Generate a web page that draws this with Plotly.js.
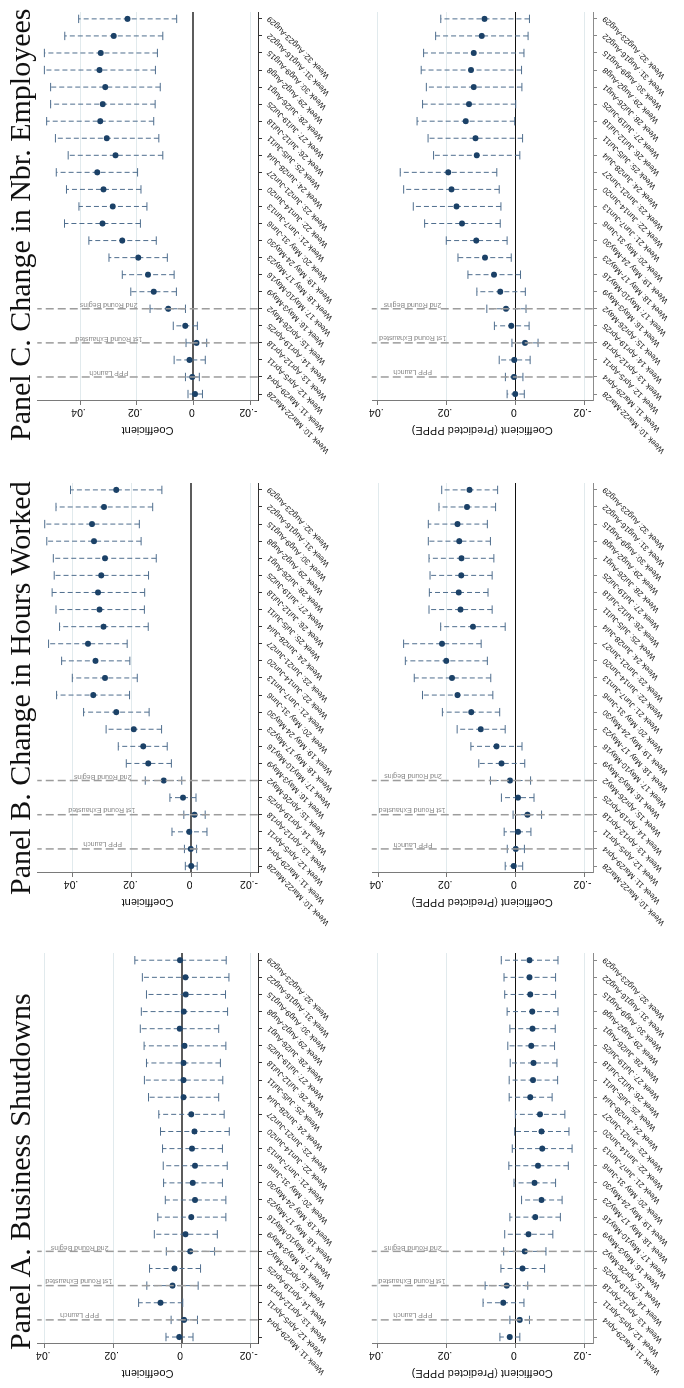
<!DOCTYPE html>
<html>
<head>
<meta charset="utf-8">
<script src="https://cdn.plot.ly/plotly-3.0.1.min.js"></script>
<style>
html,body{margin:0;padding:0;background:#fff;overflow:hidden;}
*{-webkit-font-smoothing:antialiased;-moz-osx-font-smoothing:grayscale;}
#wrap{position:relative;width:684px;height:1388px;overflow:hidden;background:#fff;}
#plot{position:absolute;left:0;top:0;width:1388px;height:684px;transform-origin:0 0;transform:translate(0px,1388px) rotate(-90deg);will-change:transform;background:#fff;}
</style>
</head>
<body>
<div id="wrap"><div id="plot"></div></div>
<script>
// ---------------- data ----------------
const weeks = [10,11,12,13,14,15,16,17,18,19,20,21,22,23,24,25,26,27,28,29,30,31,32];
const weekLabels = ["Week 10: Mar22-Mar28","Week 11: Mar29-Apr4","Week 12: Apr5-Apr11","Week 13: Apr12-Apr18","Week 14: Apr19-Apr25","Week 15: Apr26-May2","Week 16: May3-May9","Week 17: May10-May16","Week 18: May 17-May23","Week 19: May 24-May30","Week 20: May 31-Jun6","Week 21: Jun7-Jun13","Week 22: Jun14-Jun20","Week 23: Jun21-Jun27","Week 24: Jun28-Jul4","Week 25: Jul5-Jul11","Week 26: Jul12-Jul18","Week 27: Jul19-Jul25","Week 28: Jul26-Aug1","Week 29: Aug2-Aug8","Week 30: Aug9-Aug15","Week 31: Aug16-Aug22","Week 32: Aug23-Aug29"];

const panelTitles = ["Panel A. Business Shutdowns","Panel B. Change in Hours Worked","Panel C. Change in Nbr. Employees"];
const axisTitles = ["Coefficient","Coefficient (Predicted PPPE)"];
const valueTicks = [-0.02, 0, 0.02, 0.04];
const valueTickText = ["-.02","0",".02",".04"];
const eventWeeks = [11, 13, 15];
const eventLabels = ["PPP Launch","1st Round Exhausted","2nd Round Begins"];

// Panel A: Business Shutdowns
const aCoef   = [0.0007,-0.0007,0.0062,0.0027,0.0021,-0.0025,-0.0011,-0.0028,-0.0039,-0.0032,-0.0039,-0.0030,-0.0037,-0.0028,-0.0005,-0.0005,-0.0005,-0.0008,0.0006,-0.0006,-0.0012,-0.0011,0.0005];
const aCoefLo = [-0.0033,-0.0046,-0.0003,-0.0048,-0.0055,-0.0096,-0.0104,-0.0129,-0.0129,-0.0119,-0.0133,-0.0119,-0.0139,-0.0124,-0.0108,-0.0120,-0.0113,-0.0129,-0.0108,-0.0134,-0.0128,-0.0138,-0.0130];
const aCoefHi = [0.0046,0.0031,0.0126,0.0102,0.0094,0.0045,0.0080,0.0070,0.0048,0.0053,0.0054,0.0056,0.0062,0.0067,0.0097,0.0109,0.0103,0.0110,0.0121,0.0118,0.0103,0.0115,0.0137];
const aPred   = [0.0016,-0.0013,0.0035,0.0025,-0.0021,-0.0027,-0.0038,-0.0058,-0.0076,-0.0056,-0.0066,-0.0078,-0.0076,-0.0072,-0.0043,-0.0051,-0.0053,-0.0046,-0.0050,-0.0049,-0.0043,-0.0041,-0.0041];
const aPredLo = [-0.0013,-0.0041,-0.0025,-0.0036,-0.0085,-0.0089,-0.0109,-0.0131,-0.0136,-0.0117,-0.0154,-0.0165,-0.0156,-0.0144,-0.0107,-0.0123,-0.0121,-0.0114,-0.0116,-0.0124,-0.0117,-0.0117,-0.0124];
const aPredHi = [0.0045,0.0016,0.0094,0.0088,0.0042,0.0034,0.0031,0.0016,-0.0018,0.0004,0.0019,0.0009,0.0002,0.0000,0.0018,0.0018,0.0015,0.0022,0.0016,0.0024,0.0031,0.0033,0.0041];

// Panel B: Change in Hours Worked
const bCoef   = [0.0000,0.0002,0.0007,-0.0011,0.0028,0.0093,0.0145,0.0162,0.0194,0.0253,0.0330,0.0291,0.0323,0.0348,0.0296,0.0309,0.0314,0.0303,0.0291,0.0328,0.0335,0.0294,0.0253];
const bCoefLo = [-0.0020,-0.0018,-0.0053,-0.0047,-0.0016,0.0032,0.0067,0.0081,0.0100,0.0142,0.0208,0.0182,0.0207,0.0216,0.0145,0.0158,0.0157,0.0144,0.0118,0.0169,0.0175,0.0130,0.0099];
const bCoefHi = [0.0020,0.0023,0.0065,0.0025,0.0072,0.0155,0.0219,0.0246,0.0287,0.0363,0.0454,0.0401,0.0437,0.0481,0.0444,0.0456,0.0469,0.0462,0.0465,0.0487,0.0494,0.0456,0.0407];
const bPred   = [0.0005,-0.0001,-0.0007,-0.0035,-0.0007,0.0016,0.0041,0.0055,0.0101,0.0129,0.0169,0.0185,0.0202,0.0214,0.0124,0.0160,0.0165,0.0158,0.0157,0.0164,0.0169,0.0141,0.0134];
const bPredLo = [-0.0021,-0.0026,-0.0045,-0.0076,-0.0054,-0.0044,-0.0027,-0.0019,0.0030,0.0046,0.0066,0.0072,0.0082,0.0100,0.0030,0.0068,0.0080,0.0068,0.0063,0.0073,0.0082,0.0058,0.0052];
const bPredHi = [0.0030,0.0024,0.0033,0.0007,0.0041,0.0073,0.0107,0.0130,0.0170,0.0213,0.0271,0.0295,0.0321,0.0326,0.0218,0.0252,0.0251,0.0249,0.0252,0.0254,0.0254,0.0223,0.0215];

// Panel C: Change in Nbr. Employees
const cCoef   = [-0.0006,0.0004,0.0014,-0.0011,0.0029,0.0089,0.0140,0.0160,0.0195,0.0251,0.0321,0.0285,0.0317,0.0339,0.0275,0.0306,0.0329,0.0320,0.0311,0.0331,0.0327,0.0281,0.0233];
const cCoefLo = [-0.0032,-0.0021,-0.0042,-0.0047,-0.0014,0.0028,0.0060,0.0068,0.0092,0.0131,0.0187,0.0164,0.0185,0.0197,0.0108,0.0122,0.0140,0.0135,0.0117,0.0134,0.0127,0.0108,0.0059];
const cCoefHi = [0.0019,0.0028,0.0068,0.0026,0.0071,0.0153,0.0221,0.0251,0.0298,0.0369,0.0455,0.0404,0.0448,0.0484,0.0442,0.0487,0.0518,0.0504,0.0504,0.0526,0.0526,0.0454,0.0405];
const cPred   = [0.0000,0.0004,0.0003,-0.0028,0.0012,0.0027,0.0044,0.0062,0.0088,0.0114,0.0155,0.0171,0.0186,0.0195,0.0112,0.0116,0.0144,0.0135,0.0121,0.0129,0.0121,0.0098,0.0090];
const cPredLo = [-0.0026,-0.0022,-0.0043,-0.0066,-0.0040,-0.0031,-0.0029,-0.0015,0.0012,0.0024,0.0044,0.0042,0.0047,0.0054,-0.0013,-0.0021,0.0002,-0.0001,-0.0019,-0.0018,-0.0025,-0.0037,-0.0041];
const cPredHi = [0.0024,0.0029,0.0047,0.0010,0.0061,0.0083,0.0112,0.0138,0.0167,0.0201,0.0264,0.0297,0.0325,0.0335,0.0238,0.0254,0.0286,0.0270,0.0259,0.0274,0.0267,0.0232,0.0217];

// ---------------- layout geometry (landscape px, then rotated) ----------------
const W = 1388, H = 684;
const panelX = [[45,435],[516,905.3],[988,1376.3]];
const rowY = [[37.3,257.7],[371.7,592.7]];
const panelTitleX = [216, 700, 1163];

const subs = [
  {p:0,r:0,b:aCoef,lo:aCoefLo,hi:aCoefHi,range:[-0.0222,0.0422]},
  {p:0,r:1,b:aPred,lo:aPredLo,hi:aPredHi,range:[-0.0225,0.0418]},
  {p:1,r:0,b:bCoef,lo:bCoefLo,hi:bCoefHi,range:[-0.0224,0.0519]},
  {p:1,r:1,b:bPred,lo:bPredLo,hi:bPredHi,range:[-0.0225,0.0419]},
  {p:2,r:0,b:cCoef,lo:cCoefLo,hi:cCoefHi,range:[-0.0227,0.0551]},
  {p:2,r:1,b:cPred,lo:cPredLo,hi:cPredHi,range:[-0.0225,0.0418]}
];

const dotColor = '#1b4167';
const ciColor = '#4f6e8e';
const traces = [];
const layout = {
  width: W, height: H,
  margin:{l:0,r:0,t:0,b:0},
  paper_bgcolor:'#fff', plot_bgcolor:'#fff',
  showlegend:false,
  font:{family:'"Liberation Sans", Arial, sans-serif', color:'#111'},
  shapes:[], annotations:[]
};

subs.forEach((s, k) => {
  const n = k + 1;
  const xa = n === 1 ? 'x' : 'x' + n;
  const ya = n === 1 ? 'y' : 'y' + n;
  const xKey = n === 1 ? 'xaxis' : 'xaxis' + n;
  const yKey = n === 1 ? 'yaxis' : 'yaxis' + n;
  const px = panelX[s.p], py = rowY[s.r];
  const left = s.r === 0;

  layout[xKey] = {
    domain:[px[0]/W, px[1]/W], anchor: ya,
    range:[9.65, 32.42], tickmode:'array', tickvals: weeks, ticktext: weekLabels,
    tickangle:-45, tickfont:{size:8, color:'#1a1a1a'},
    ticks:'outside', ticklen:3, tickcolor: left ? '#333' : '#888',
    showline:true, linecolor: left ? '#333' : '#8c8c8c', linewidth: left ? 1 : 1.5,
    showgrid:false, zeroline:false, fixedrange:true
  };
  layout[yKey] = {
    domain:[1 - py[1]/H, 1 - py[0]/H], anchor: xa,
    range: s.range, tickmode:'array', tickvals: valueTicks, ticktext: valueTickText,
    tickangle:-90, tickfont:{size:10.5, color:'#111'},
    ticks:'outside', ticklen:4, tickcolor:'#777',
    showline:true, linecolor:'#7a7a7a', linewidth:1.3,
    showgrid:true, gridcolor:'#e1eaed', gridwidth:1,
    zeroline:true, zerolinecolor: left ? '#5c5c5c' : '#111', zerolinewidth: left ? 1.8 : 1,
    title:{text: axisTitles[s.r], font:{size:11, color:'#111'}, standoff:4},
    fixedrange:true
  };

  // CI segments
  const cx = [], cy = [];
  weeks.forEach((w, i) => { cx.push(w, w, null); cy.push(s.lo[i], s.hi[i], null); });
  traces.push({
    type:'scatter', mode:'lines+markers', x: cx, y: cy, xaxis: xa, yaxis: ya,
    line:{color: ciColor, width:1, dash:'5px,3px'},
    marker:{symbol:'line-ew', size:6, color: ciColor, line:{color: ciColor, width:1}},
    hoverinfo:'skip', connectgaps:false
  });
  // point estimates
  traces.push({
    type:'scatter', mode:'markers', x: weeks, y: s.b, xaxis: xa, yaxis: ya,
    marker:{symbol:'circle', size:6, color: dotColor}, hoverinfo:'skip'
  });

  // event lines & labels
  eventWeeks.forEach((w, j) => {
    layout.shapes.push({type:'line', xref: xa, yref: ya + ' domain', x0:w, x1:w, y0:0, y1:1,
      line:{color:'#9c9c9c', width:1.5, dash:'8px,4px'}, layer:'above'});
    layout.annotations.push({xref: xa, yref: ya, x: w + 0.22, y: 0.03, text: eventLabels[j],
      textangle:-90, showarrow:false, xanchor:'center', yanchor:'middle',
      font:{size:7, color:'#8a8a8a'}});
  });
});

panelTitles.forEach((t, i) => {
  layout.annotations.push({xref:'paper', yref:'paper', x: panelTitleX[i]/W, y: 1 - 1/H,
    xanchor:'center', yanchor:'top', text: t, showarrow:false,
    font:{family:'"Liberation Serif", "Times New Roman", serif', size:30, color:'#111'}});
});

Plotly.newPlot('plot', traces, layout, {staticPlot:true, displayModeBar:false});
</script>
</body>
</html>
